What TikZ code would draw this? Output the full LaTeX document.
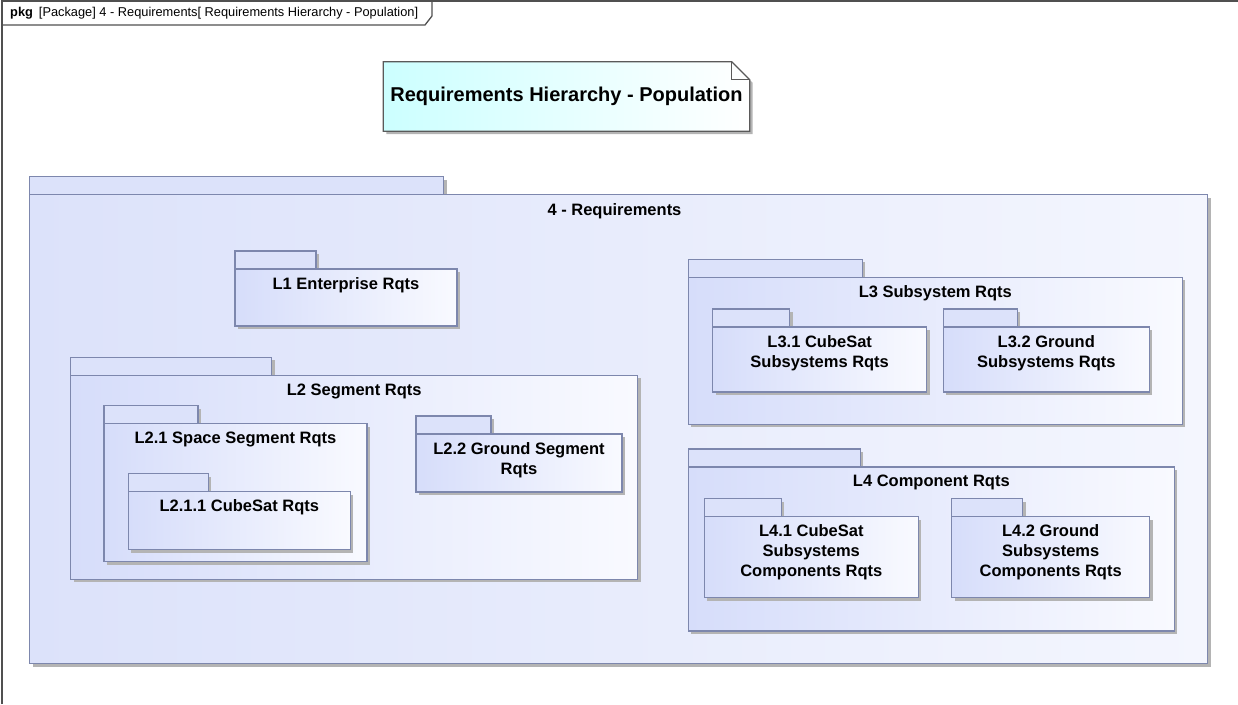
\documentclass[tikz,border=0pt]{standalone}
\usepackage{fontspec}
\setmainfont{Liberation Sans}
\usetikzlibrary{positioning,shadows,backgrounds}

\definecolor{pkgline}{HTML}{7D87AD}
\definecolor{tabfill}{HTML}{DCE2FA}
\definecolor{bodyleft}{HTML}{D6DDFA}
\definecolor{bodyright}{HTML}{F9FAFF}
\definecolor{outerleft}{HTML}{DCE2FA}
\definecolor{outerright}{HTML}{F4F6FE}
\definecolor{noteleft}{HTML}{CCFFFF}
\definecolor{notegray}{HTML}{5A5A5A}
\definecolor{shadowgray}{HTML}{B4B4B4}
\definecolor{frameline}{HTML}{505050}

\begin{document}
\begin{tikzpicture}[x=1pt, y=-1pt,
	grayshadow/.style = {drop shadow={shadow xshift=3pt, shadow yshift=-3pt, fill=shadowgray, opacity=1}},
	pkgtab/.style  = {draw=pkgline, line width=1.2pt, fill=tabfill, inner sep=0pt, outer sep=0pt, minimum height=18pt, anchor=north west, grayshadow},
	pkgbody/.style = {draw=pkgline, line width=1.2pt, left color=bodyleft, right color=bodyright, inner sep=0pt, outer sep=0pt, grayshadow},
	pkgname/.style = {font=\fontsize{16.5}{20}\selectfont\bfseries, align=center, inner sep=0pt},
	notebox/.style = {font=\fontsize{20}{24}\selectfont\bfseries, minimum width=366pt, minimum height=69pt, inner sep=0pt}]
	
	\useasboundingbox (0,0) rectangle (1238,704);
	
	% diagram frame and its name tab
	\draw[frameline, line width=1.3pt] (2,704) -- (2,1) -- (1238,1);
	\draw[frameline, line width=1.3pt] (2,25) -- (425,25) -- (432,16) -- (432,1);
	\node[anchor=west, inner sep=0pt] (hdr) at (10,13) {\fontsize{12.8}{14}\selectfont\bfseries pkg\hspace{6pt}\mdseries [Package] 4 - Requirements[ Requirements Hierarchy - Population]};
	
	% title note with folded corner
	\node[notebox] (note) at (566.5,96.5) {Requirements Hierarchy - Population};
	\begin{scope}[on background layer]
	\path[grayshadow, left color=noteleft, right color=white, draw=notegray, line width=1.2pt]
	(note.south west) -- (note.north west) -- ([xshift=-18pt]note.north east)
	-- ([yshift=-18pt]note.north east) -- (note.south east) -- cycle;
	\end{scope}
	\draw[notegray, line width=1.2pt] ([xshift=-18pt]note.north east) -- ++(0,18) -- ++(18,0);
	
	% outer package
	\node[pkgtab, minimum width=414pt] (reqtab) at (29.5,176.5) {};
	\node[pkgbody, left color=outerleft, right color=outerright, minimum width=1178pt, minimum height=469pt, below right=0pt of reqtab.south west] (req) {};
	\node[pkgname, below=9pt of req.north, xshift=-4pt] (reqname) {4 - Requirements};
	
	% level 1
	\node[pkgtab, minimum width=81pt] (l1tab) at (235,251) {};
	\node[pkgbody, minimum width=222pt, minimum height=57pt, below right=0pt of l1tab.south west] (l1) {};
	\node[pkgname, below=8pt of l1.north] (l1name) {L1 Enterprise Rqts};
	
	% level 2 and its children
	\node[pkgtab, minimum width=201pt] (l2tab) at (70.7,357.3) {};
	\node[pkgbody, minimum width=567pt, minimum height=204pt, below right=0pt of l2tab.south west] (l2) {};
	\node[pkgname, below=8pt of l2.north] (l2name) {L2 Segment Rqts};
	
	\node[pkgtab, minimum width=94pt] (l21tab) at (104,405.5) {};
	\node[pkgbody, minimum width=263pt, minimum height=138pt, below right=0pt of l21tab.south west] (l21) {};
	\node[pkgname, below=8pt of l21.north] (l21name) {L2.1 Space Segment Rqts};
	
	\node[pkgtab, minimum width=80pt] (l211tab) at (128.3,473.5) {};
	\node[pkgbody, minimum width=222pt, minimum height=58pt, below right=0pt of l211tab.south west] (l211) {};
	\node[pkgname, below=8pt of l211.north] (l211name) {L2.1.1 CubeSat Rqts};
	
	\node[pkgtab, minimum width=75pt] (l22tab) at (416,416) {};
	\node[pkgbody, minimum width=206pt, minimum height=58pt, below right=0pt of l22tab.south west] (l22) {};
	\node[pkgname, below=8pt of l22.north] (l22name) {L2.2 Ground Segment\\Rqts};
	
	% level 3
	\node[pkgtab, minimum width=174pt] (l3tab) at (688.3,259.3) {};
	\node[pkgbody, minimum width=494pt, minimum height=147pt, below right=0pt of l3tab.south west] (l3) {};
	\node[pkgname, below=8pt of l3.north] (l3name) {L3 Subsystem Rqts};
	
	\node[pkgtab, minimum width=77pt] (l31tab) at (712.7,309) {};
	\node[pkgbody, minimum width=214pt, minimum height=65pt, below right=0pt of l31tab.south west] (l31) {};
	\node[pkgname, below=8pt of l31.north] (l31name) {L3.1 CubeSat\\Subsystems Rqts};
	
	\node[pkgtab, minimum width=74pt] (l32tab) at (943.3,309) {};
	\node[pkgbody, minimum width=206pt, minimum height=65pt, below right=0pt of l32tab.south west] (l32) {};
	\node[pkgname, below=8pt of l32.north] (l32name) {L3.2 Ground\\Subsystems Rqts};
	
	% level 4
	\node[pkgtab, minimum width=172pt] (l4tab) at (688.3,449) {};
	\node[pkgbody, minimum width=486pt, minimum height=164pt, below right=0pt of l4tab.south west] (l4) {};
	\node[pkgname, below=8pt of l4.north] (l4name) {L4 Component Rqts};
	
	\node[pkgtab, minimum width=77pt] (l41tab) at (704.3,498.5) {};
	\node[pkgbody, minimum width=214pt, minimum height=81pt, below right=0pt of l41tab.south west] (l41) {};
	\node[pkgname, below=8pt of l41.north] (l41name) {L4.1 CubeSat\\Subsystems\\Components Rqts};
	
	\node[pkgtab, minimum width=71pt] (l42tab) at (951.7,498.5) {};
	\node[pkgbody, minimum width=198pt, minimum height=81pt, below right=0pt of l42tab.south west] (l42) {};
	\node[pkgname, below=8pt of l42.north] (l42name) {L4.2 Ground\\Subsystems\\Components Rqts};
\end{tikzpicture}
\end{document}
